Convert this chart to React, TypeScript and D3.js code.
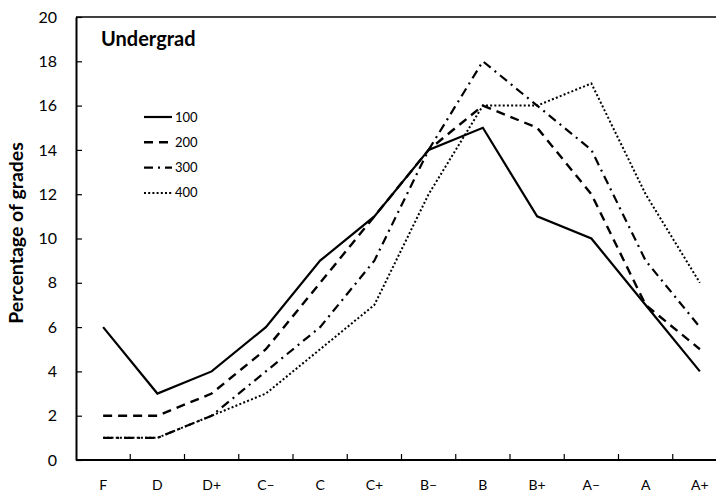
import { useEffect, useRef } from 'react'
import * as d3 from 'd3'

const grades = ['F', 'D', 'D+', 'C–', 'C', 'C+', 'B–', 'B', 'B+', 'A–', 'A', 'A+']
const yTicks = [0, 2, 4, 6, 8, 10, 12, 14, 16, 18, 20]

const level100 = [6, 3, 4, 6, 9, 11, 14, 15, 11, 10, 7, 4]
const level200 = [2, 2, 3, 5, 8, 11, 14, 16, 15, 12, 7, 5]
const level300 = [1, 1, 2, 4, 6, 9, 14, 18, 16, 14, 9, 6]
const level400 = [1, 1, 2, 3, 5, 7, 12, 16, 16, 17, 12, 8]

const seriesNames = ['100', '200', '300', '400']

const FONT = 'Lato, Carlito, Calibri, sans-serif'

export default function App() {
  const ref = useRef<SVGSVGElement | null>(null)

  useEffect(() => {
    const el = ref.current
    if (!el) return
    const left = 76
    const right = 727
    const top = 17
    const bottom = 460

    const svg = d3.select(el)
    svg.selectAll('*').remove()

    const x = d3.scaleBand<string>().domain(grades).range([left, right]).padding(0)
    const y = d3.scaleLinear().domain([0, 20]).range([bottom, top])

    // plot frame top line
    svg.append('line')
      .attr('x1', left).attr('x2', right)
      .attr('y1', top).attr('y2', top)
      .attr('stroke', '#000').attr('stroke-width', 1.5)

    // y axis
    const yAxis = svg.append('g').attr('transform', `translate(${left},0)`)
      .call(d3.axisLeft(y).tickValues(yTicks).tickSize(-6).tickPadding(10).tickSizeOuter(0))
    yAxis.select('.domain').attr('stroke-width', 2)
    yAxis.selectAll('.tick line').attr('stroke-width', 1.2)
    yAxis.selectAll('text')
      .attr('font-family', FONT).attr('font-size', 16).attr('fill', '#000')
      .attr('x', -19)

    // x axis with ticks between categories
    const xAxis = svg.append('g').attr('transform', `translate(0,${bottom})`)
    xAxis.append('line')
      .attr('x1', left).attr('x2', right).attr('y1', 0).attr('y2', 0)
      .attr('stroke', '#000').attr('stroke-width', 2.2)
    xAxis.selectAll('line.tk')
      .data(grades.slice(1))
      .join('line')
      .attr('class', 'tk')
      .attr('x1', d => x(d) as number).attr('x2', d => x(d) as number)
      .attr('y1', 0).attr('y2', -6)
      .attr('stroke', '#000').attr('stroke-width', 1.2)
    xAxis.selectAll('text')
      .data(grades)
      .join('text')
      .attr('x', d => (x(d) as number) + x.bandwidth() / 2)
      .attr('y', 30)
      .attr('text-anchor', 'middle')
      .attr('font-family', FONT).attr('font-size', 14)
      .text(d => d)

    // y title
    svg.append('text')
      .attr('transform', `translate(23,233) rotate(-90)`)
      .attr('text-anchor', 'middle')
      .attr('font-family', FONT).attr('font-size', 19.5).attr('font-weight', 'bold')
      .text('Percentage of grades')

    svg.append('text')
      .attr('x', 101).attr('y', 46)
      .attr('font-family', FONT).attr('font-size', 20).attr('font-weight', 'bold')
      .text('Undergrad')

    const dashes = [null, '9,6', '9,5,2,5', '2,2.2']
    const widths = [2.2, 2.4, 2.2, 2]
    const allSeries = [level100, level200, level300, level400]

    const line = d3.line<number>()
      .x((_, i) => (x(grades[i]) as number) + x.bandwidth() / 2)
      .y(d => y(d))

    allSeries.forEach((vals, k) => {
      svg.append('path')
        .datum(vals)
        .attr('d', line)
        .attr('fill', 'none')
        .attr('stroke', '#000')
        .attr('stroke-width', widths[k])
        .attr('stroke-dasharray', dashes[k])
        .attr('stroke-linejoin', 'miter')
    })

    // legend
    const lg = svg.append('g')
    seriesNames.forEach((name, k) => {
      const ly = 117 + k * 25.3
      lg.append('line')
        .attr('x1', 144).attr('x2', 172).attr('y1', ly).attr('y2', ly)
        .attr('stroke', '#000').attr('stroke-width', widths[k])
        .attr('stroke-dasharray', dashes[k])
      lg.append('text')
        .attr('x', 175).attr('y', ly + 4.5)
        .attr('font-family', FONT).attr('font-size', 13)
        .text(name)
    })
  }, [])

  return (
    <svg
      ref={ref}
      width={716}
      height={493}
      style={{ position: 'absolute', left: 0, top: 0, background: '#fff' }}
    />
  )
}
